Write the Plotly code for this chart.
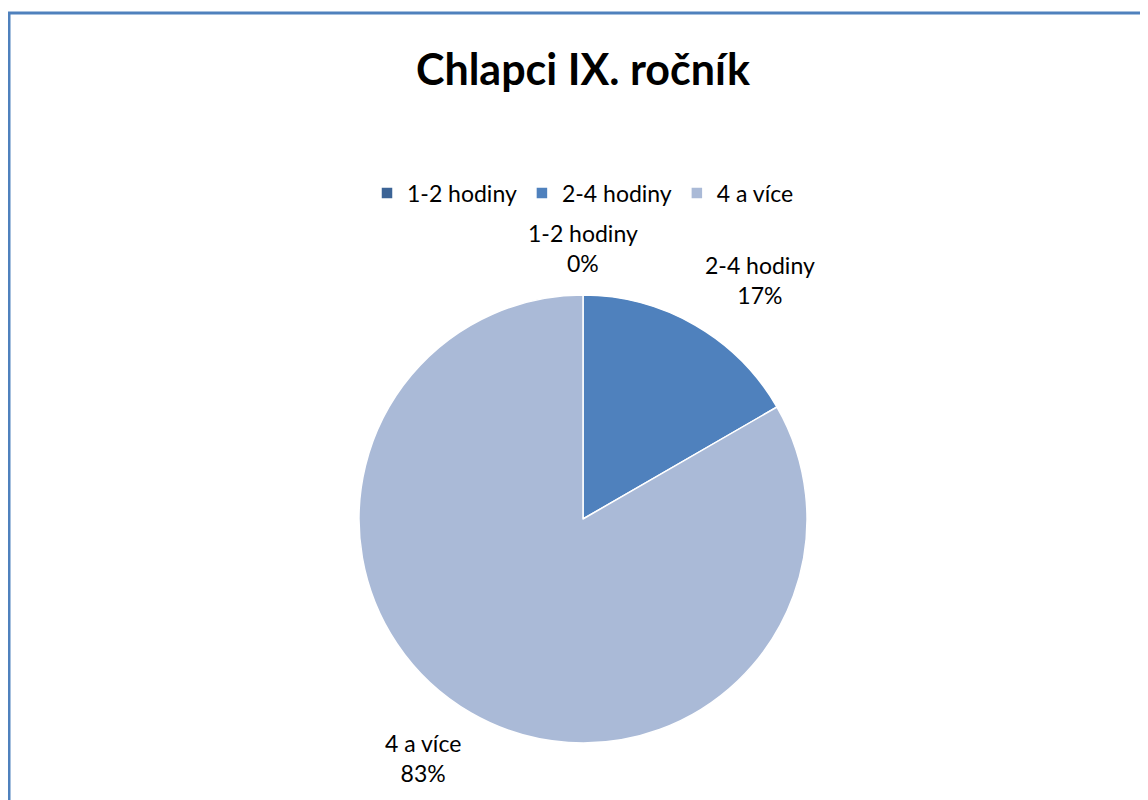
import math
import plotly.graph_objects as go

# Data
labels = ["1-2 hodiny", "2-4 hodiny", "4 a více"]
values = [0, 1, 5]
colors = ["#3C6496", "#4F81BD", "#AABAD7"]
title_text = "Chlapci IX. ročník"

W, H = 1148, 800
FONT = "Lato, Calibri, sans-serif"

# pie geometry in figure pixels (page has an 8px body margin)
CX, CY, R = 575, 511, 224
LABEL_R = 240

fig = go.Figure()

fig.add_trace(
    go.Pie(
        labels=labels,
        values=values,
        sort=False,
        direction="clockwise",
        rotation=0,
        marker=dict(colors=colors, line=dict(color="white", width=1.5)),
        textinfo="none",
        hoverinfo="label+percent",
        domain=dict(x=[(CX - R) / W, (CX + R) / W], y=[1 - (CY + R) / H, 1 - (CY - R) / H]),
    )
)

# Data labels placed Excel-style just outside each slice
total = sum(values)
cum = 0
for lab, v in zip(labels, values):
    mid = (cum + v / 2) / total * 2 * math.pi
    cum += v
    sx, cy = math.sin(mid), math.cos(mid)
    px = CX + LABEL_R * sx
    py = CY - LABEL_R * cy
    xa = "left" if sx > 0.1 else ("right" if sx < -0.1 else "center")
    ya = "bottom" if cy > 0 else "top"
    fig.add_annotation(
        x=px / W, y=1 - py / H, xref="paper", yref="paper",
        text=f"{lab}<br>{round(v / total * 100)}%",
        showarrow=False, xanchor=xa, yanchor=ya, align="center",
        font=dict(size=23, family=FONT, color="#000000"),
    )

# Chart area border (top and left visible, cropped on right/bottom)
fig.add_shape(
    type="rect",
    xref="paper", yref="paper",
    x0=1 / W, x1=1.02, y0=-0.02, y1=1 - 5 / H,
    line=dict(color="#4F81BD", width=3),
    layer="below",
)

fig.update_layout(
    width=W,
    height=H,
    margin=dict(l=0, r=0, t=0, b=0),
    paper_bgcolor="white",
    plot_bgcolor="white",
    font=dict(family=FONT, size=23, color="#000000"),
    title=dict(
        text="<b>" + title_text + "</b>",
        x=CX / W, xanchor="center",
        y=1 - 62 / H, yanchor="middle",
        font=dict(size=43, family=FONT, color="#000000"),
    ),
    showlegend=True,
    legend=dict(
        orientation="h",
        x=CX / W, xanchor="center",
        y=1 - 185 / H, yanchor="middle",
        font=dict(size=23, family=FONT),
        itemwidth=30,
        traceorder="normal",
    ),
)

fig.write_html("out.html")
